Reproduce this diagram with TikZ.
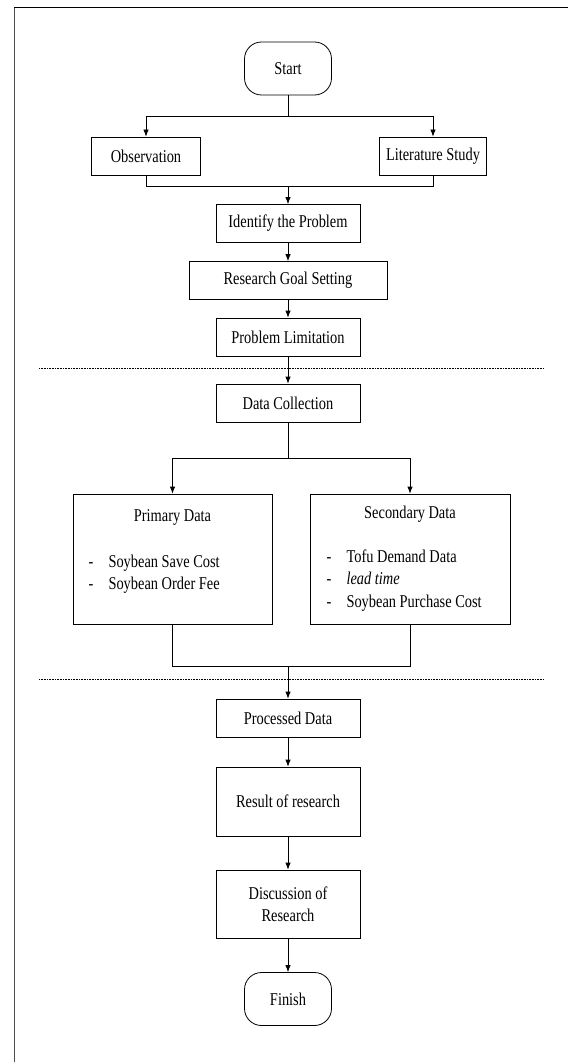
\documentclass[tikz,border=0pt]{standalone}
\usepackage{fontspec}
\setmainfont{Liberation Serif}[FakeStretch=0.8]
\usetikzlibrary{arrows.meta}

\begin{document}
\begin{tikzpicture}
  [x=1pt,y=-1pt,line width=.8pt,
   every node/.style={font=\fontsize{18}{22}\selectfont,align=center},
   box/.style={draw,rectangle,minimum width=144pt,minimum height=38pt,inner sep=0pt},
   term/.style={draw,rectangle,rounded corners=17pt,minimum width=87pt,minimum height=53pt,inner sep=0pt},
   databox/.style={draw,rectangle,minimum width=199pt,minimum height=130pt},
   arr/.style={-{Latex[length=7pt,width=5.5pt]}},
   sep/.style={densely dotted,line width=.6pt}]
  \useasboundingbox (0,0) rectangle (568,1062);
  \draw [line width=.7pt,black!70] (14,1062) -- (14,8);
  \draw [line width=1pt] (14,8) -- (568,8);

  \node [term] (start) at (288,68.5) {Start};
  \node [box,minimum width=109pt] (obs) at (146,156) {Observation};
  \node [box,minimum width=107pt] (lit) at (433,156) {Literature Study};
  \node [box] (ident) at (288,223.5) {Identify the Problem};
  \node [box,minimum width=198pt] (goal) at (288,280.5) {Research Goal Setting};
  \node [box] (limit) at (288,337) {Problem Limitation};
  \node [box] (collect) at (288,403) {Data Collection};
  \node [databox] (prim) at (172.5,559) {};
  \node [databox,minimum width=200pt] (sec) at (410,559) {};
  \node [box] (processed) at (288,718) {Processed Data};
  \node [box,minimum height=69pt] (result) at (288,801.5) {Result of research};
  \node [box,minimum height=68pt] (discuss) at (288,904) {Discussion of\\Research};
  \node [term] (finish) at (288,999) {Finish};

  % contents of the two data boxes
  \node (primtitle) at (172.5,517) {Primary Data};
  \node [anchor=west] (primlist) at (85,574) {\renewcommand{\arraystretch}{1.0}%
    \begin{tabular}{@{}l@{\hspace{15pt}}l@{}}-&Soybean Save Cost\\-&Soybean Order Fee\end{tabular}};
  \node (sectitle) at (410,514) {Secondary Data};
  \node [anchor=west] (seclist) at (323,580.5) {\renewcommand{\arraystretch}{1.02}%
    \begin{tabular}{@{}l@{\hspace{15pt}}l@{}}-&Tofu Demand Data\\-&\textit{lead time}\\-&Soybean Purchase Cost\end{tabular}};

  \coordinate (j1) at (288,116);
  \coordinate (j2) at (288,186);
  \coordinate (j3) at (288,458);
  \coordinate (j4) at (288,666);

  \draw [sep] (39,368) -- (544,368);
  \draw [sep] (39,679) -- (544,679);

  \draw (start) -- (j1);
  \draw [arr] (j1) -| (obs);
  \draw [arr] (j1) -| (lit);
  \draw (obs) |- (j2);
  \draw (lit) |- (j2);
  \draw [arr] (j2) -- (ident);
  \draw (collect) -- (j3);
  \draw [arr] (j3) -| (prim);
  \draw [arr] (j3) -| (sec);
  \draw (prim) |- (j4);
  \draw (sec) |- (j4);
  \draw [arr] (j4) -- (processed);

  \foreach \from/\to in {ident/goal,goal/limit,limit/collect,processed/result,result/discuss,discuss/finish}
    \draw [arr] (\from) -- (\to);

\end{tikzpicture}
\end{document}
